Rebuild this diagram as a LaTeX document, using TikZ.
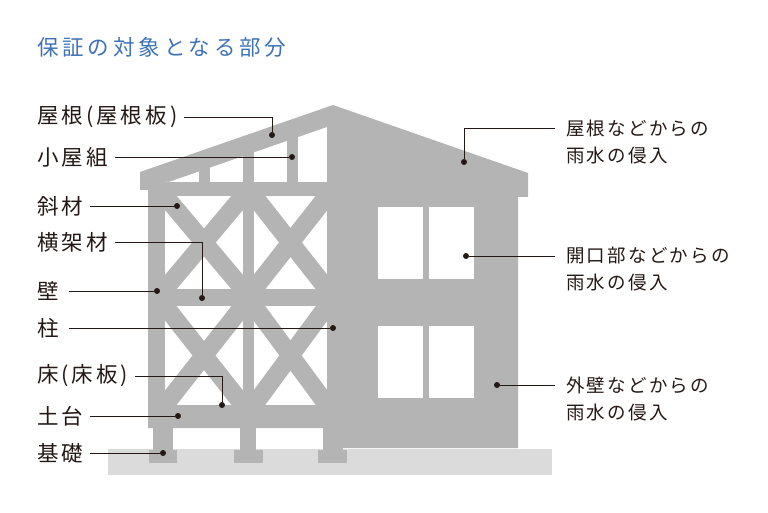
\documentclass[tikz,border=0pt]{standalone}
\usepackage{fontspec}
\usepackage{tikz}
\newfontfamily\jptitle[LetterSpace=18]{Noto Sans CJK JP}
\newfontfamily\jplabel[LetterSpace=14]{Noto Sans CJK JP}
\newfontfamily\jpleak[LetterSpace=12]{Noto Sans CJK JP}
\definecolor{housegray}{RGB}{180,180,181}
\definecolor{groundgray}{RGB}{219,219,220}
\definecolor{titleblue}{RGB}{62,114,184}
\definecolor{inkblack}{RGB}{35,24,21}

\begin{document}
\begin{tikzpicture}[x=1pt,y=-1pt,
		part/.style={anchor=west, inner sep=0pt, text=inkblack, font=\jplabel\fontsize{21.5}{23}\selectfont},
		leak/.style={anchor=west, inner sep=0pt, text=inkblack, font=\jpleak\fontsize{18.5}{20}\selectfont},
		pin/.style={circle, fill=inkblack, inner sep=0pt, minimum size=6pt},
		leader/.style={inkblack, line width=0.8pt, shorten <=7pt},
		brace/.style={housegray, line width=18pt}]
	\useasboundingbox (0,0) rectangle (768,513);

	% ground and house silhouette
	\fill [groundgray] (108,449) rectangle (552,475);
	\fill [housegray] (140,172) -- (333,105) -- (528,173) -- (528,197) -- (518,197) -- (518,448)
		-- (343,448) -- (343,428) -- (148,428) -- (148,190) -- (140,190) -- cycle;
	\foreach \x/\w in {153/20, 240/16, 323/20}
		\fill [housegray] (\x,427) rectangle ++(\w,24);
	\foreach \x/\w in {149/28, 234/29, 318/29}
		\fill [housegray] (\x,450) rectangle ++(\w,13);

	% roof truss openings
	\begin{scope}
		\clip (140,192) -- (333,125) -- (333,182) -- (140,182) -- cycle;
		\foreach \a/\b in {165/199, 210/243, 254/287, 298/327}
			\fill [white] (\a,100) rectangle (\b,182);
	\end{scope}

	% wall bays with braces
	\foreach \a/\b in {165/243, 254/327}
		\foreach \t/\u in {196/289, 306/405} {
			\begin{scope}
				\clip (\a,\t) rectangle (\b,\u);
				\fill [white] (\a,\t) rectangle (\b,\u);
				\draw [brace] (\a,\t) -- (\b,\u) (\a,\u) -- (\b,\t);
			\end{scope}
		}

	% windows
	\foreach \y in {207, 326}
		\foreach \x in {378, 429}
			\fill [white] (\x,\y) rectangle ++(45,72);

	\node (title) [anchor=west, inner sep=0pt, text=titleblue, font=\jptitle\fontsize{21.5}{24}\selectfont] at (37,47) {保証の対象となる部分};

	\node (part0) [part] at (37,117) {屋根(屋根板)};
	\node (part1) [part] at (37,157) {小屋組};
	\node (part2) [part] at (37,206) {斜材};
	\node (part3) [part] at (37,242) {横架材};
	\node (part4) [part] at (37,291) {壁};
	\node (part5) [part] at (37,328) {柱};
	\node (part6) [part] at (37,376) {床(床板)};
	\node (part7) [part] at (37,416) {土台};
	\node (part8) [part] at (37,453) {基礎};

	\node (pin0) [pin] at (272,135) {};
	\node (pin1) [pin] at (292,157) {};
	\node (pin2) [pin] at (177,206) {};
	\node (pin3) [pin] at (202,298) {};
	\node (pin4) [pin] at (157,291) {};
	\node (pin5) [pin] at (333,328) {};
	\node (pin6) [pin] at (222,405) {};
	\node (pin7) [pin] at (178,416) {};
	\node (pin8) [pin] at (163,453) {};

	\draw [leader] (part0.east) -| (pin0);
	\draw [leader] (part1.east) -- (pin1);
	\draw [leader] (part2.east) -- (pin2);
	\draw [leader] (part3.east) -| (pin3);
	\draw [leader, shorten <=10pt] (part4.east) -- (pin4);
	\draw [leader, shorten <=10pt] (part5.east) -- (pin5);
	\draw [leader] (part6.east) -| (pin6);
	\draw [leader] (part7.east) -- (pin7);
	\draw [leader] (part8.east) -- (pin8);

	\node (leak0) [leak] at (566,128) {屋根などからの};
	\node (rain0) [leak, anchor=base west] at ([yshift=-27pt]leak0.base west) {雨水の侵入};
	\node (leak1) [leak] at (566,256) {開口部などからの};
	\node (rain1) [leak, anchor=base west] at ([yshift=-27pt]leak1.base west) {雨水の侵入};
	\node (leak2) [leak] at (566,385) {外壁などからの};
	\node (rain2) [leak, anchor=base west] at ([yshift=-27pt]leak2.base west) {雨水の侵入};

	\node (leakpin0) [pin] at (464,162) {};
	\node (leakpin1) [pin] at (466,256) {};
	\node (leakpin2) [pin] at (497,385) {};

	\draw [leader, shorten <=0pt, shorten >=11pt] (leakpin0) |- (leak0.west);
	\draw [leader, shorten <=0pt, shorten >=11pt] (leakpin1) -- (leak1.west);
	\draw [leader, shorten <=0pt, shorten >=11pt] (leakpin2) -- (leak2.west);
\end{tikzpicture}
\end{document}
